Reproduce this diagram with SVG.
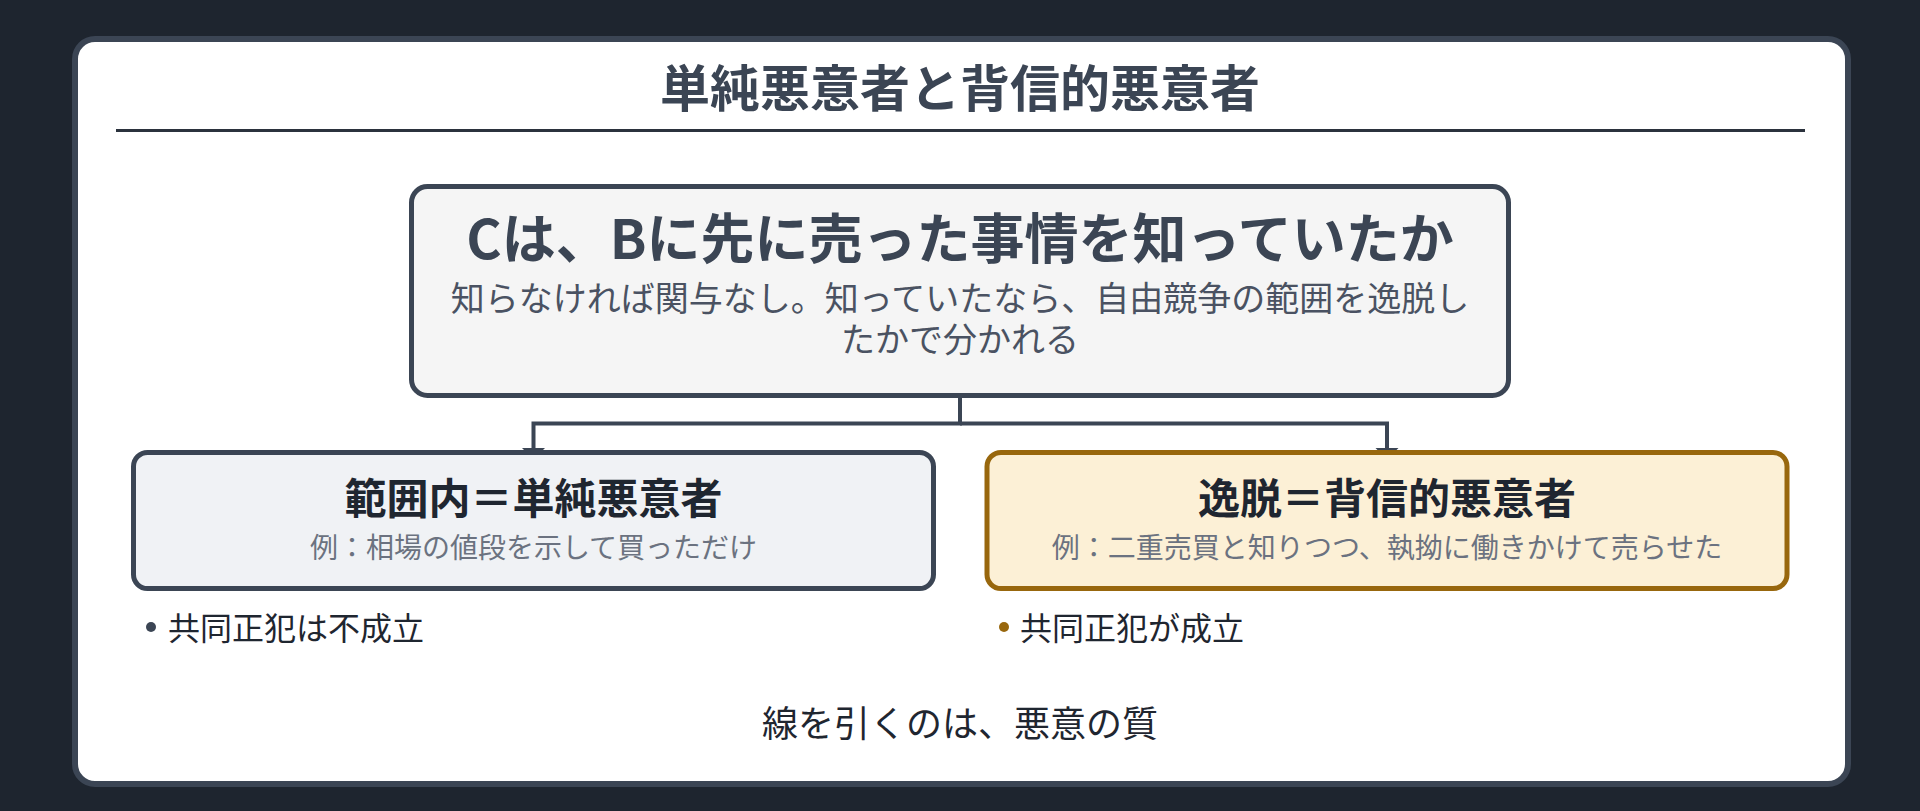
<svg xmlns="http://www.w3.org/2000/svg" width="1920" height="811" viewBox="0 0 1920 811">
<style>
text{font-family:"Noto Sans CJK JP","Noto Sans",sans-serif;dominant-baseline:central;text-anchor:middle}
.title{font-size:50px;font-weight:700;fill:#3b4554}
.head{font-size:54px;font-weight:700;fill:#3b4554}
.sub{font-size:34px;fill:#4a5262}
.ctitle{font-size:42px;font-weight:700;fill:#1f2630}
.csub{font-size:28px;fill:#6b7280}
.bullet{font-size:32px;fill:#1f2630;text-anchor:start}
.foot{font-size:36px;fill:#1f2630}
.conn{fill:none;stroke:#3b4554;stroke-width:4}
</style>
<defs>
<marker id="arr" markerUnits="userSpaceOnUse" markerWidth="12" markerHeight="24" viewBox="0 0 12 24" refX="12" refY="12" orient="auto">
<path d="M0,0 L12,12 L0,24 z" fill="#3b4554"/>
</marker>
</defs>
<rect width="1920" height="811" fill="#1e252f"/>
<g id="card">
<rect x="75" y="39" width="1773" height="745" rx="20" fill="#ffffff" stroke="#3b4554" stroke-width="6"/>
<text class="title" x="960" y="85">単純悪意者と背信的悪意者</text>
<line x1="116" y1="130.5" x2="1805" y2="130.5" stroke="#2b323d" stroke-width="3"/>
</g>
<g id="connectors">
<path class="conn" d="M960,398 V423.5 H533.5 V459.5" marker-end="url(#arr)"/>
<path class="conn" d="M960,423.5 H1387 V459.5" marker-end="url(#arr)"/>
</g>
<g id="question">
<rect x="411.5" y="186.5" width="1097" height="209" rx="16" fill="#f5f5f5" stroke="#3b4554" stroke-width="5"/>
<text class="head" x="960" y="235">Cは、Bに先に売った事情を知っていたか</text>
<text class="sub" x="960" y="296"><tspan x="960" y="296">知らなければ関与なし。知っていたなら、自由競争の範囲を逸脱し</tspan><tspan x="960" y="337">たかで分かれる</tspan></text>
</g>
<g id="simple">
<rect x="133.5" y="452.5" width="800" height="136" rx="14" fill="#f0f2f5" stroke="#3b4554" stroke-width="5"/>
<text class="ctitle" x="533.5" y="495">範囲内＝単純悪意者</text>
<text class="csub" x="533.5" y="546">例：相場の値段を示して買っただけ</text>
</g>
<g id="betrayal">
<rect x="987" y="452.5" width="800" height="136" rx="14" fill="#fcf0d6" stroke="#98670d" stroke-width="5"/>
<text class="ctitle" x="1387" y="495">逸脱＝背信的悪意者</text>
<text class="csub" x="1387" y="546">例：二重売買と知りつつ、執拗に働きかけて売らせた</text>
</g>
<g id="note-simple">
<circle cx="151" cy="627" r="5" fill="#3b4554"/>
<text class="bullet" x="168" y="626">共同正犯は不成立</text>
</g>
<g id="note-betrayal">
<circle cx="1004" cy="627" r="5" fill="#98670d"/>
<text class="bullet" x="1020" y="626">共同正犯が成立</text>
</g>
<g id="footer">
<text class="foot" x="960" y="721">線を引くのは、悪意の質</text>
</g>
</svg>
